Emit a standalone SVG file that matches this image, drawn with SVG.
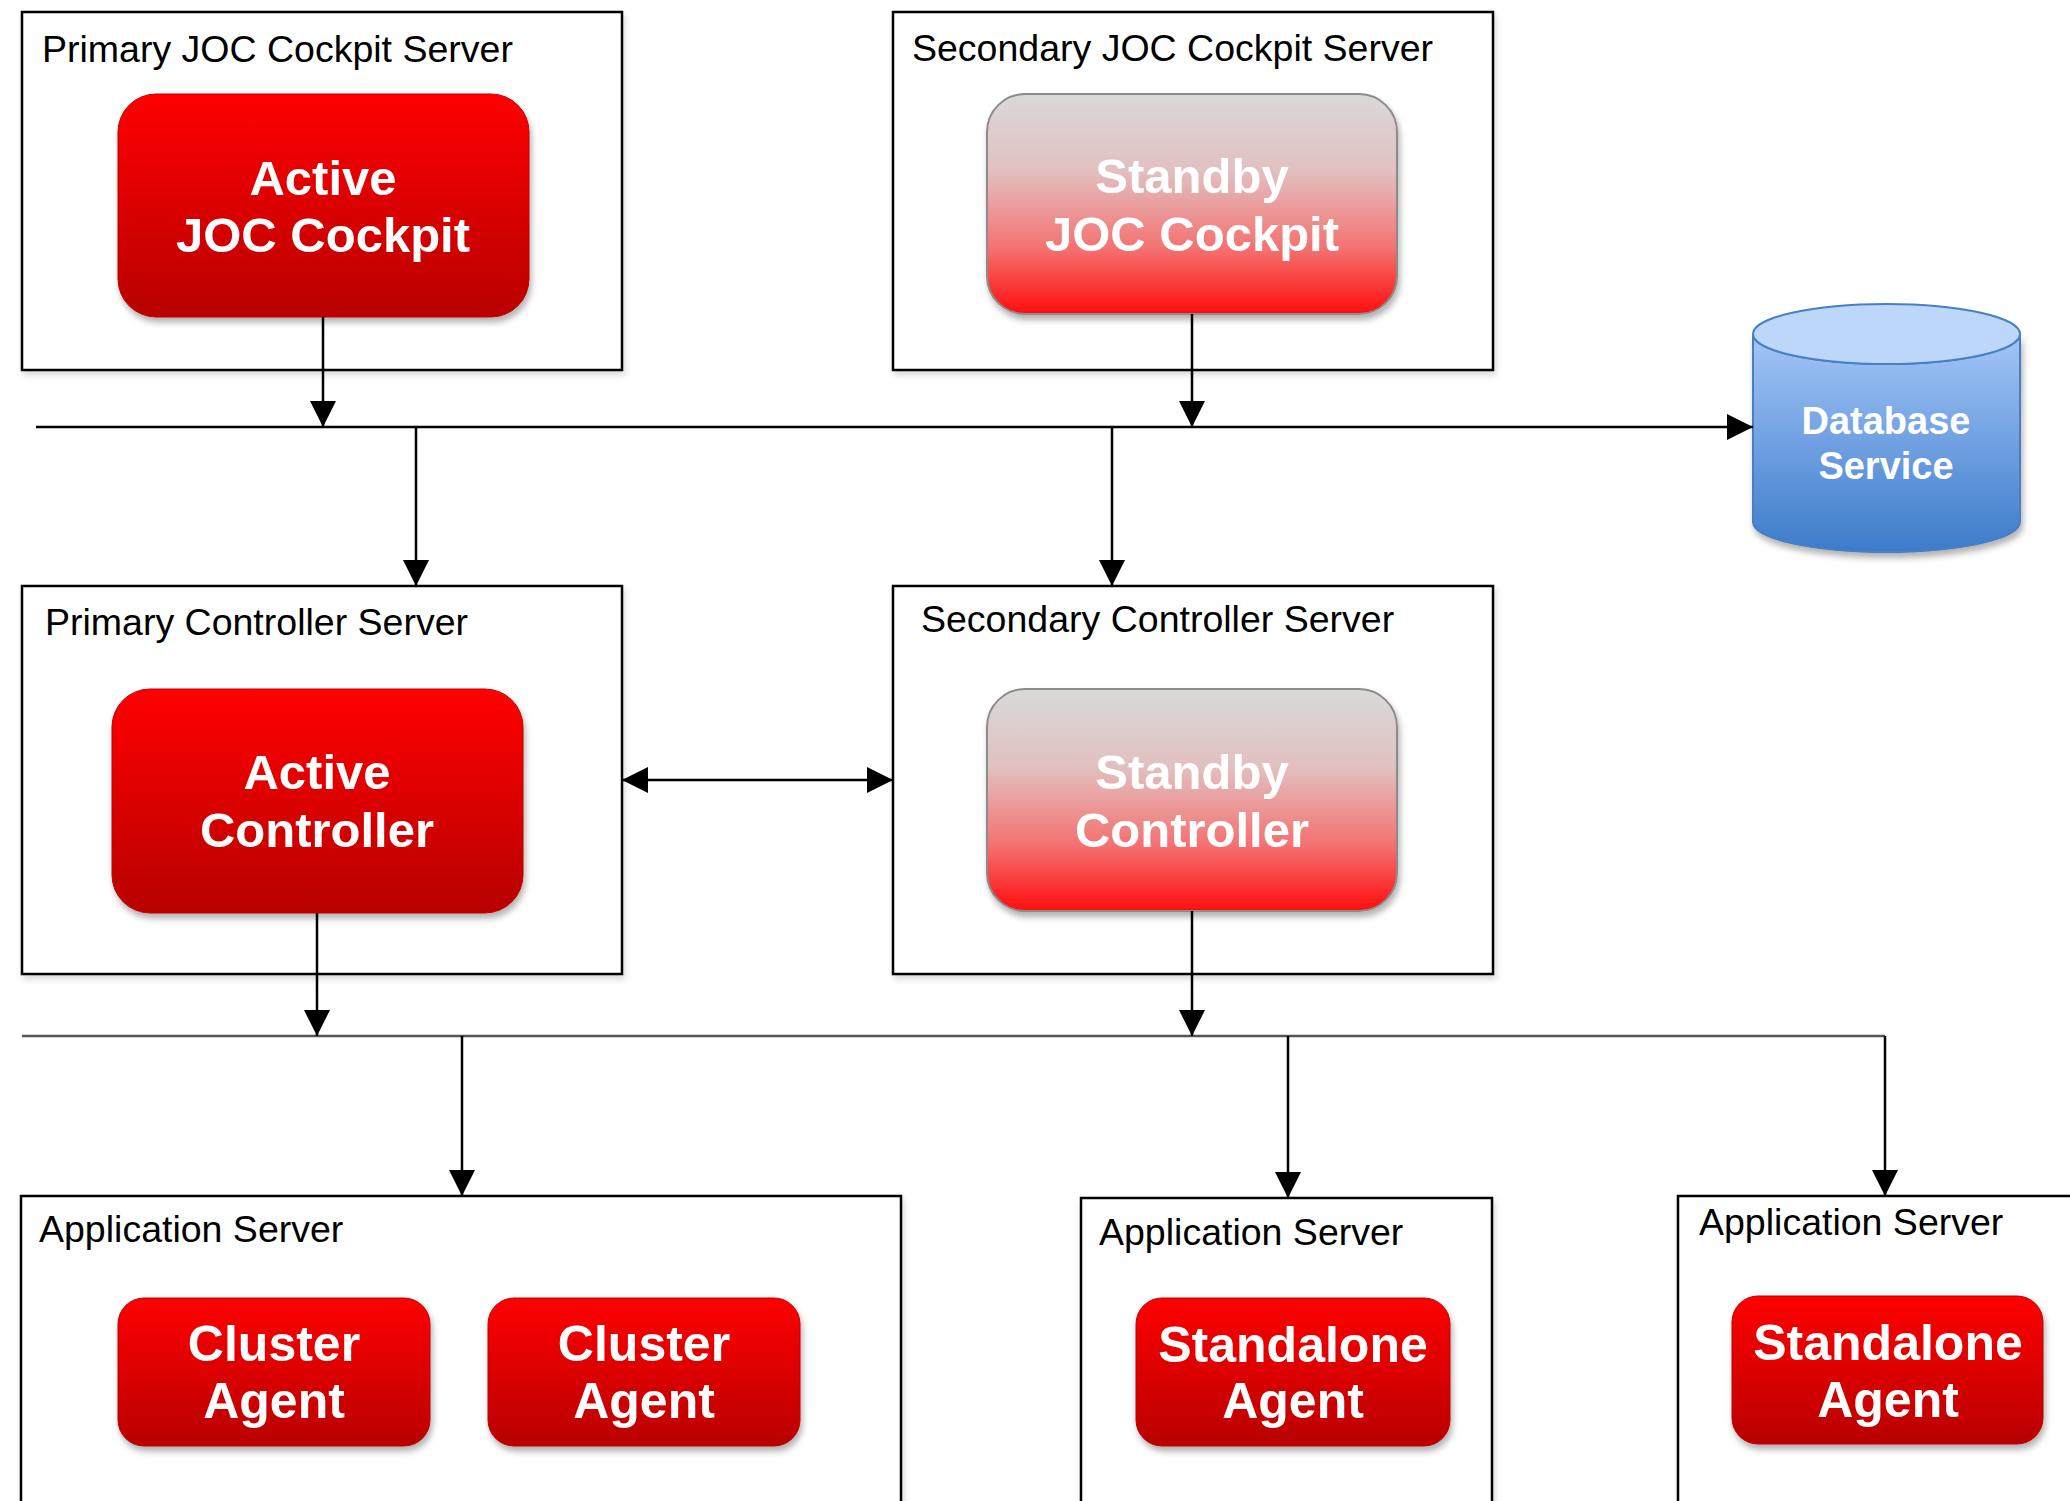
<svg xmlns="http://www.w3.org/2000/svg" width="2070" height="1501" viewBox="0 0 2070 1501">
<defs>
  <linearGradient id="gActive" x1="0" y1="0" x2="0" y2="1">
    <stop offset="0" stop-color="#ff0000"/>
    <stop offset="1" stop-color="#b80000"/>
  </linearGradient>
  <linearGradient id="gStandby" x1="0" y1="0" x2="0" y2="1">
    <stop offset="0" stop-color="#d9d9d9"/>
    <stop offset="0.35" stop-color="#e2c0c0"/>
    <stop offset="0.7" stop-color="#f47272"/>
    <stop offset="1" stop-color="#ff0d0d"/>
  </linearGradient>
  <linearGradient id="gDb" x1="0" y1="0" x2="0" y2="1">
    <stop offset="0" stop-color="#a3c6f7"/>
    <stop offset="1" stop-color="#3d7bcb"/>
  </linearGradient>
  <filter id="shadow" x="-10%" y="-10%" width="125%" height="130%">
    <feDropShadow dx="2" dy="5" stdDeviation="3" flood-color="#000" flood-opacity="0.3"/>
  </filter>
  <filter id="boxshadow" x="-5%" y="-5%" width="110%" height="115%">
    <feDropShadow dx="2" dy="4" stdDeviation="3" flood-color="#000" flood-opacity="0.15"/>
  </filter>
  <marker id="arr" markerUnits="userSpaceOnUse" markerWidth="26" markerHeight="26" refX="26" refY="13" orient="auto">
    <path d="M0,0 L26,13 L0,26 z" fill="#000"/>
  </marker>
  <marker id="arrStart" markerUnits="userSpaceOnUse" markerWidth="26" markerHeight="26" refX="0" refY="13" orient="auto">
    <path d="M26,0 L0,13 L26,26 z" fill="#000"/>
  </marker>
</defs>
<style>
  .server { fill: #fff; stroke: #000; stroke-width: 2.5; }
  .title { font-family: "Liberation Sans", Arial, sans-serif; font-size: 37.5px; fill: #000; }
  .active { fill: url(#gActive); stroke: #c00000; stroke-width: 1; }
  .standby { fill: url(#gStandby); stroke: #8c8c8c; stroke-width: 2; }
  .label { font-family: "Liberation Sans", Arial, sans-serif; font-weight: bold; font-size: 49px; fill: #fff; text-anchor: middle; }
  .agent { font-size: 50px; }
  .dblabel { font-family: "Liberation Sans", Arial, sans-serif; font-weight: bold; font-size: 38px; fill: #fff; text-anchor: middle; }
  .conn { stroke: #000; stroke-width: 2.5; fill: none; }
  .bus2 { stroke: #555; stroke-width: 2.5; fill: none; }
</style>
<rect width="2070" height="1501" fill="#fff"/>

<g id="primary-joc-server">
  <rect class="server" x="22" y="12" width="600" height="358" filter="url(#boxshadow)"/>
  <text class="title" x="42" y="62">Primary JOC Cockpit Server</text>
</g>
<g id="active-joc">
  <rect class="active" x="118" y="94" width="411" height="223" rx="38" ry="38" filter="url(#shadow)"/>
  <text class="label" x="323" y="195">Active</text>
  <text class="label" x="323" y="252">JOC Cockpit</text>
</g>

<g id="secondary-joc-server">
  <rect class="server" x="893" y="12" width="600" height="358" filter="url(#boxshadow)"/>
  <text class="title" x="912" y="61">Secondary JOC Cockpit Server</text>
</g>
<g id="standby-joc">
  <rect class="standby" x="987" y="94" width="410" height="220" rx="38" ry="38" filter="url(#shadow)"/>
  <text class="label" x="1192" y="193">Standby</text>
  <text class="label" x="1192" y="251">JOC Cockpit</text>
</g>

<g id="database">
  <g filter="url(#shadow)">
    <path d="M1753,334 V522 A133.5,30 0 0 0 2020,522 V334 A133.5,30 0 0 1 1753,334 Z" fill="url(#gDb)" stroke="#4a7fc0" stroke-width="2"/>
  </g>
  <ellipse cx="1886.5" cy="334" rx="133.5" ry="30" fill="#bdd7fb" stroke="#4a7fc0" stroke-width="2"/>
  <text class="dblabel" x="1886" y="434">Database</text>
  <text class="dblabel" x="1886" y="479">Service</text>
</g>

<g id="primary-controller-server">
  <rect class="server" x="22" y="586" width="600" height="388" filter="url(#boxshadow)"/>
  <text class="title" x="45" y="635">Primary Controller Server</text>
</g>
<g id="active-controller">
  <rect class="active" x="112" y="689" width="411" height="224" rx="38" ry="38" filter="url(#shadow)"/>
  <text class="label" x="317" y="789">Active</text>
  <text class="label" x="317" y="847">Controller</text>
</g>

<g id="secondary-controller-server">
  <rect class="server" x="893" y="586" width="600" height="388" filter="url(#boxshadow)"/>
  <text class="title" x="921" y="632">Secondary Controller Server</text>
</g>
<g id="standby-controller">
  <rect class="standby" x="987" y="689" width="410" height="222" rx="38" ry="38" filter="url(#shadow)"/>
  <text class="label" x="1192" y="789">Standby</text>
  <text class="label" x="1192" y="847">Controller</text>
</g>

<g id="app-server-1">
  <rect class="server" x="21" y="1196" width="880" height="330" filter="url(#boxshadow)"/>
  <text class="title" x="39" y="1242">Application Server</text>
</g>
<g id="cluster-agent-1">
  <rect class="active" x="118" y="1298" width="312" height="148" rx="26" ry="26" filter="url(#shadow)"/>
  <text class="label agent" x="274" y="1361">Cluster</text>
  <text class="label agent" x="274" y="1418">Agent</text>
</g>
<g id="cluster-agent-2">
  <rect class="active" x="488" y="1298" width="312" height="148" rx="26" ry="26" filter="url(#shadow)"/>
  <text class="label agent" x="644" y="1361">Cluster</text>
  <text class="label agent" x="644" y="1418">Agent</text>
</g>

<g id="app-server-2">
  <rect class="server" x="1081" y="1198" width="411" height="330" filter="url(#boxshadow)"/>
  <text class="title" x="1099" y="1245">Application Server</text>
</g>
<g id="standalone-agent-1">
  <rect class="active" x="1136" y="1298" width="314" height="148" rx="26" ry="26" filter="url(#shadow)"/>
  <text class="label agent" x="1293" y="1362">Standalone</text>
  <text class="label agent" x="1293" y="1418">Agent</text>
</g>

<g id="app-server-3">
  <rect class="server" x="1678" y="1196" width="420" height="330" filter="url(#boxshadow)"/>
  <text class="title" x="1699" y="1235">Application Server</text>
</g>
<g id="standalone-agent-2">
  <rect class="active" x="1732" y="1296" width="311" height="148" rx="26" ry="26" filter="url(#shadow)"/>
  <text class="label agent" x="1888" y="1360">Standalone</text>
  <text class="label agent" x="1888" y="1417">Agent</text>
</g>

<g id="connectors">
  <line class="conn" x1="36" y1="427" x2="1753" y2="427" marker-end="url(#arr)"/>
  <line class="conn" x1="323" y1="317" x2="323" y2="427" marker-end="url(#arr)"/>
  <line class="conn" x1="1192" y1="314" x2="1192" y2="427" marker-end="url(#arr)"/>
  <line class="conn" x1="416" y1="427" x2="416" y2="586" marker-end="url(#arr)"/>
  <line class="conn" x1="1112" y1="427" x2="1112" y2="586" marker-end="url(#arr)"/>
  <line class="conn" x1="622" y1="780" x2="893" y2="780" marker-start="url(#arrStart)" marker-end="url(#arr)"/>
  <line class="bus2" x1="22" y1="1036" x2="1885" y2="1036"/>
  <line class="conn" x1="317" y1="913" x2="317" y2="1036" marker-end="url(#arr)"/>
  <line class="conn" x1="1192" y1="911" x2="1192" y2="1036" marker-end="url(#arr)"/>
  <line class="conn" x1="462" y1="1036" x2="462" y2="1196" marker-end="url(#arr)"/>
  <line class="conn" x1="1288" y1="1036" x2="1288" y2="1198" marker-end="url(#arr)"/>
  <line class="conn" x1="1885" y1="1036" x2="1885" y2="1196" marker-end="url(#arr)"/>
</g>
</svg>
